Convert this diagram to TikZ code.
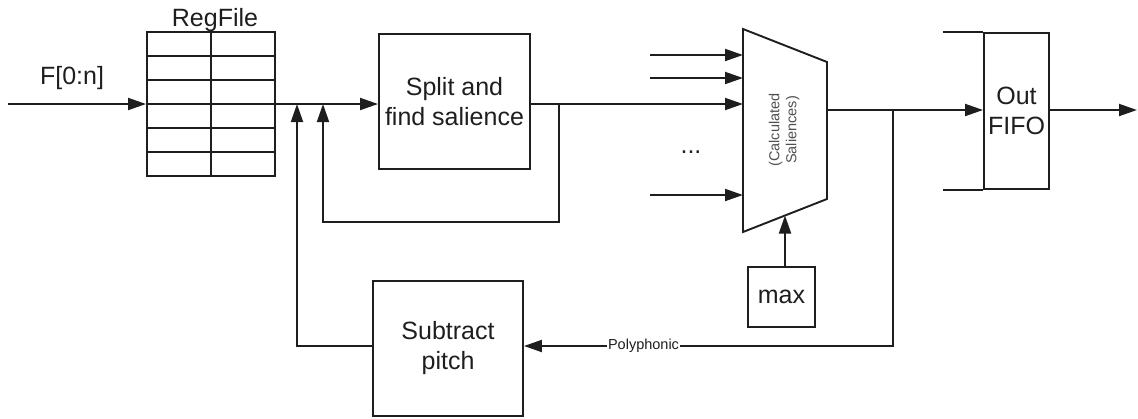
\documentclass[tikz,border=0pt]{standalone}
\usepackage{fontspec}
\setmainfont{Liberation Sans}
\usetikzlibrary{arrows.meta}
\definecolor{figK}{RGB}{30,30,30}
\definecolor{figG}{RGB}{80,80,80}
\newcommand{\bigtxt}{\fontsize{25}{30}\selectfont}
\newcommand{\smalltxt}{\fontsize{14.5}{17}\selectfont}

\begin{document}
\begin{tikzpicture}[x=1pt,y=-1pt,line width=1.9pt,color=figK,>={Triangle[length=18pt,width=12pt]},
  blk/.style={draw,inner sep=0pt,align=center,font=\bigtxt}]
\useasboundingbox (0,0) rectangle (1138,418);
% register file
\node[draw,minimum width=128,minimum height=144] (reg) at (211,104) {};
\foreach \y in {56,80,104,128,152} \draw (reg.west |- 0,\y) -- (reg.east |- 0,\y);
\draw (reg.north) -- (reg.south);
\node[font=\bigtxt] (regname) at (215,20) {RegFile};
\node[font=\bigtxt] (fname) at (72,78) {F[0:n]};
% blocks
\node[blk,minimum width=151,minimum height=135] (split) at (454.5,101.5) {Split and\\find salience};
\node[blk,minimum width=150,minimum height=135] (sub) at (448,348.5) {Subtract\\pitch};
\node[blk,minimum width=67,minimum height=60] (max) at (781.5,297) {max};
\node[blk,minimum width=65,minimum height=156] (fifo) at (1016.5,111) {Out\\FIFO};
\draw (fifo.north west) -- ++(-40,0);
\draw (fifo.south west) -- ++(-40,0);
% selector
\draw (743,29) coordinate (mux nw) -- (827,62) coordinate (mux ne) -- (827,199) coordinate (mux se) -- (743,232) coordinate (mux sw) -- cycle;
\node[rotate=90,text=figG,font=\smalltxt,align=center] (muxname) at (784,130) {(Calculated\\Saliences)};
\node[font=\bigtxt] (dots) at (691,152) {...};
\foreach \n/\y in {a/55,b/78,d/195}{
  \coordinate (src \n) at (650,\y); \coordinate (mux in \n) at (743,\y);
  \draw[->] (src \n) -- (mux in \n);}
\coordinate (mux in c) at (743,104);
\coordinate (mux out) at (827,110);
\coordinate (mux bot) at (785,215.5);
% main path
\coordinate (in) at (8,104);
\coordinate (out) at (1137,110);
\coordinate (tapA) at (559,104);
\coordinate (joinA) at (323,104);
\coordinate (joinB) at (297,104);
\coordinate (tapB) at (893,110);
\coordinate (poly) at (893,346);
\draw[->] (in) -- (reg.west);
\draw[->] (reg.east) -- (split.west |- reg.east);
\draw[->] (split.east |- reg.east) -- (mux in c);
\draw[->] (tapA) -- ++(0,118) -| (joinA);
\draw[->] (mux out) -- (fifo.west |- mux out);
\draw[->] (fifo.east |- mux out) -- (out);
\draw[->] (mux bot |- max.north) -- (mux bot);
\draw[->] (tapB) -- (poly) -- (sub.east |- poly) node[pos=0.676,fill=white,inner sep=1pt,font=\smalltxt] (polyname) {Polyphonic};
\draw[->] (sub.west |- poly) -| (joinB);
\end{tikzpicture}
\end{document}
